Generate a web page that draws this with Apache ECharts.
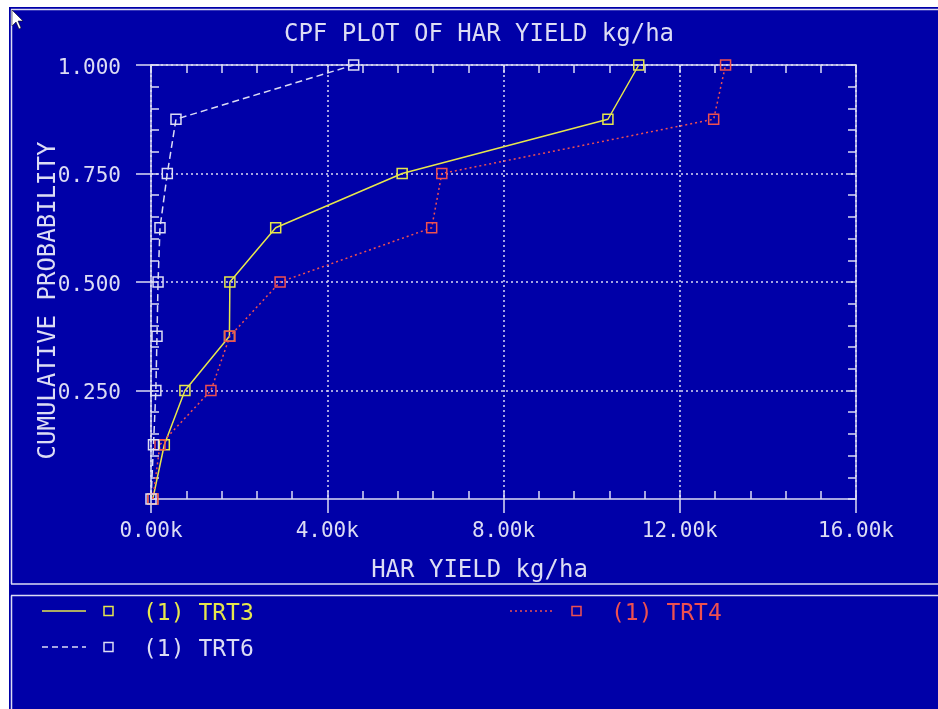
<!DOCTYPE html>
<html>
<head>
<meta charset="utf-8">
<script src="https://cdn.jsdelivr.net/npm/echarts@6/dist/echarts.min.js"></script>
<style>
html,body{margin:0;padding:0;background:#fff;}
#c{width:938px;height:709px;}
</style>
</head>
<body>
<div id="c"></div>
<script>
// ---- data ----
var probabilities = [0, 0.125, 0.25, 0.375, 0.5, 0.625, 0.75, 0.875, 1.0];
var trt3Yield = [40, 302, 770, 1780, 1790, 2830, 5700, 10370, 11070];
var trt4Yield = [40, 204, 1360, 1790, 2930, 6370, 6600, 12770, 13040];
var trt6Yield = [0, 57, 110, 136, 160, 204, 370, 567, 4600];
var seriesNames = ['(1) TRT3', '(1) TRT4', '(1) TRT6'];
var xTickValues = [0, 4000, 8000, 12000, 16000];
var xTickLabels = ['0.00k', '4.00k', '8.00k', '12.00k', '16.00k'];
var yTickValues = [0.25, 0.5, 0.75, 1.0];
var yTickLabels = ['0.250', '0.500', '0.750', '1.000'];
var titleText = 'CPF PLOT OF HAR YIELD kg/ha';
var xName = 'HAR YIELD kg/ha';
var yName = 'CUMULATIVE PROBABILITY';

// ---- style ----
var BG = '#0000a8';
var FG = '#dcdcf4';
var YEL = '#e6e64c';
var RED = '#ee5050';
var FONT = '"DejaVu Sans Mono", monospace';

function pairs(xs) { return xs.map(function (x, i) { return [x, probabilities[i]]; }); }
function lookup(vals, labels) {
  return function (v) {
    for (var i = 0; i < vals.length; i++) if (Math.abs(vals[i] - v) < 1e-9) return labels[i];
    return '';
  };
}

var chart = echarts.init(document.getElementById('c'), null, {renderer: 'canvas'});

var axisLineStyle = {color: FG, width: 1.5};
var gridLine = {show: true, lineStyle: {color: FG, width: 1.5, type: [2, 3]}};

function lineSeries(name, ys, color, type) {
  return {
    name: name, type: 'line', data: pairs(ys),
    xAxisIndex: 0, yAxisIndex: 0,
    symbol: 'rect', symbolSize: 10,
    lineStyle: {color: color, width: 1.5, type: type},
    itemStyle: {color: 'rgba(0,0,0,0)', borderColor: color, borderWidth: 1.5},
    emphasis: {disabled: true}, silent: true, z: 3
  };
}

// legend built from the series names/colours
var legendItems = [
  {name: seriesNames[0], color: YEL, dash: 'solid', x: 42, y: 611},
  {name: seriesNames[1], color: RED, dash: [2, 3], x: 510, y: 611},
  {name: seriesNames[2], color: FG, dash: [6, 4], x: 42, y: 647}
];
var legendGraphics = [];
legendItems.forEach(function (it) {
  legendGraphics.push({type: 'line', shape: {x1: it.x, y1: it.y, x2: it.x + 44, y2: it.y},
    style: {stroke: it.color, lineWidth: 1.5, lineDash: it.dash === 'solid' ? null : it.dash}});
  legendGraphics.push({type: 'rect', shape: {x: it.x + 62, y: it.y - 4.5, width: 9, height: 9},
    style: {fill: 'none', stroke: it.color, lineWidth: 1.5}});
  legendGraphics.push({type: 'text', x: it.x + 101, y: it.y + 3,
    style: {text: it.name, fill: it.color, font: '23px ' + FONT, textAlign: 'left', textVerticalAlign: 'middle'}});
});

var option = {
  backgroundColor: BG,
  animation: false,
  grid: {left: 151, top: 65, width: 705, height: 434, containLabel: false},
  xAxis: [
    {type: 'value', position: 'bottom', min: 0, max: 16000, interval: 4000,
      axisLine: {show: true, onZero: false, lineStyle: axisLineStyle},
      axisTick: {show: true, inside: false, length: 14, lineStyle: axisLineStyle},
      axisLabel: {show: true, margin: 22, color: FG, fontFamily: FONT, fontSize: 21,
        customValues: xTickValues, formatter: lookup(xTickValues, xTickLabels)},
      splitLine: gridLine},
    {type: 'value', position: 'bottom', min: 0, max: 16000, interval: 800,
      axisLine: {show: false, onZero: false},
      axisTick: {show: true, inside: true, length: 8, lineStyle: axisLineStyle},
      axisLabel: {show: false}, splitLine: {show: false}},
    {type: 'value', position: 'top', min: 0, max: 16000, interval: 800,
      axisLine: {show: true, onZero: false, lineStyle: axisLineStyle},
      axisTick: {show: true, inside: true, length: 8, lineStyle: axisLineStyle},
      axisLabel: {show: false}, splitLine: {show: false}}
  ],
  yAxis: [
    {type: 'value', position: 'left', min: 0, max: 1, interval: 0.25,
      axisLine: {show: true, onZero: false, lineStyle: axisLineStyle},
      axisTick: {show: true, inside: false, length: 15, lineStyle: axisLineStyle, customValues: yTickValues},
      axisLabel: {show: true, margin: 30, color: FG, fontFamily: FONT, fontSize: 21,
        verticalAlign: 'top', lineHeight: 7,
        customValues: yTickValues, formatter: lookup(yTickValues, yTickLabels)},
      splitLine: gridLine},
    {type: 'value', position: 'left', min: 0, max: 1, interval: 0.05,
      axisLine: {show: false, onZero: false},
      axisTick: {show: true, inside: true, length: 8, lineStyle: axisLineStyle},
      axisLabel: {show: false}, splitLine: {show: false}},
    {type: 'value', position: 'right', min: 0, max: 1, interval: 0.05,
      axisLine: {show: true, onZero: false, lineStyle: axisLineStyle},
      axisTick: {show: true, inside: true, length: 8, lineStyle: axisLineStyle},
      axisLabel: {show: false}, splitLine: {show: false}}
  ],
  series: [
    lineSeries(seriesNames[0], trt3Yield, YEL, 'solid'),
    lineSeries(seriesNames[1], trt4Yield, RED, [2, 3]),
    lineSeries(seriesNames[2], trt6Yield, FG, [7, 4])
  ],
  graphic: {
    elements: [
      // white strips outside the screen area
      {type: 'rect', shape: {x: 0, y: 0, width: 938, height: 7}, style: {fill: '#ffffff'}, silent: true},
      {type: 'rect', shape: {x: 0, y: 0, width: 9, height: 709}, style: {fill: '#ffffff'}, silent: true},
      // panel frame lines
      {type: 'line', shape: {x1: 11, y1: 9.5, x2: 938, y2: 9.5}, style: {stroke: FG, lineWidth: 1.5}},
      {type: 'line', shape: {x1: 11.5, y1: 9.5, x2: 11.5, y2: 584}, style: {stroke: FG, lineWidth: 1.5}},
      {type: 'line', shape: {x1: 11, y1: 584, x2: 938, y2: 584}, style: {stroke: FG, lineWidth: 1.5}},
      {type: 'line', shape: {x1: 11, y1: 595.5, x2: 938, y2: 595.5}, style: {stroke: FG, lineWidth: 1.5}},
      {type: 'line', shape: {x1: 11.5, y1: 595.5, x2: 11.5, y2: 709}, style: {stroke: FG, lineWidth: 1.5}},
      // mouse pointer
      {type: 'polygon', shape: {points: [[12, 10], [12, 26], [16, 22], [19, 29], [21, 28], [18, 21], [23, 21]]},
        style: {fill: '#ffffff', stroke: '#000000', lineWidth: 0.5}},
      // title and axis names
      {type: 'text', x: 479, y: 35,
        style: {text: titleText, fill: FG, font: '24px ' + FONT, textAlign: 'center', textVerticalAlign: 'middle'}},
      {type: 'text', x: 479.5, y: 571,
        style: {text: xName, fill: FG, font: '24px ' + FONT, textAlign: 'center', textVerticalAlign: 'middle'}},
      {type: 'text', x: 49, y: 300.5, rotation: Math.PI / 2,
        style: {text: yName, fill: FG, font: '24px ' + FONT, textAlign: 'center', textVerticalAlign: 'middle'}}
    ].concat(legendGraphics)
  }
};
chart.setOption(option);
</script>
</body>
</html>
